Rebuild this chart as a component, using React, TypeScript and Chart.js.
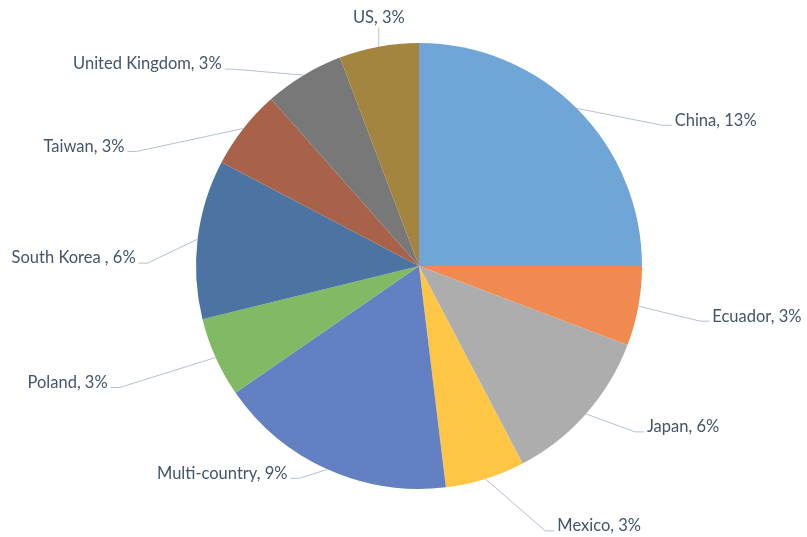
import React, { useEffect, useRef } from "react";
import { Chart, registerables } from "chart.js";

Chart.register(...registerables);

// ---- data ----
const categories = [
  "China",
  "Ecuador",
  "Japan",
  "Mexico",
  "Multi-country",
  "Poland",
  "South Korea ",
  "Taiwan",
  "United Kingdom",
  "US",
];
const shares = [13, 3, 6, 3, 9, 3, 6, 3, 3, 3];
const percentLabels = ["13%", "3%", "6%", "3%", "9%", "3%", "6%", "3%", "3%", "3%"];

// ---- styles ----
const sliceColors = [
  "#70a5d8",
  "#f08a50",
  "#adadad",
  "#ffc545",
  "#6381c2",
  "#81b964",
  "#4b74a3",
  "#a9624a",
  "#787878",
  "#a48540",
];
const TEXT_COLOR = "#44546a";
const LEADER_COLOR = "#b4c0d2";
const FONT = "16.5px Lato";

// label elbow offsets (px) relative to the slice's outer mid-point, mimicking the manual label layout
const labelNudges: [number, number][] = [
  [86, 17],
  [62, 15],
  [49, 18],
  [60, 52],
  [-28, 9],
  [-96, 30],
  [-50, 24],
  [-107, 23],
  [-70, -6],
  [0, -19],
];

const outerLabelPlugin = {
  id: "outerLabels",
  afterDatasetsDraw(chart: any) {
    const ctx = chart.ctx as CanvasRenderingContext2D;
    const meta = chart.getDatasetMeta(0);
    ctx.save();
    ctx.font = FONT;
    ctx.fillStyle = TEXT_COLOR;
    ctx.strokeStyle = LEADER_COLOR;
    ctx.lineWidth = 1;
    meta.data.forEach((arc: any, i: number) => {
      const p = arc.getProps(["x", "y", "startAngle", "endAngle", "outerRadius"], true);
      const mid = (p.startAngle + p.endAngle) / 2;
      const ax = p.x + Math.cos(mid) * p.outerRadius;
      const ay = p.y + Math.sin(mid) * p.outerRadius;
      const [ox, oy] = labelNudges[i];
      const ex = ax + ox;
      const ey = ay + oy;
      const side = ox > 0 ? 1 : ox < 0 ? -1 : 0;
      const text = `${categories[i]}, ${percentLabels[i]}`;
      ctx.beginPath();
      ctx.moveTo(ax, ay);
      ctx.lineTo(ex, ey);
      if (side !== 0) ctx.lineTo(ex + side * 9, ey);
      ctx.stroke();
      if (side === 0) {
        ctx.textAlign = "center";
        ctx.textBaseline = "middle";
        ctx.fillText(text, ex, ey - 10);
      } else {
        ctx.textAlign = side > 0 ? "left" : "right";
        ctx.textBaseline = "middle";
        ctx.fillText(text, ex + side * 12, ey - 5);
      }
    });
    ctx.restore();
  },
};

export default function App() {
  const canvasRef = useRef<HTMLCanvasElement | null>(null);

  useEffect(() => {
    document.body.style.margin = "0";
    const canvas = canvasRef.current;
    if (!canvas) return;
    const chart = new Chart(canvas, {
      type: "pie",
      data: {
        labels: categories,
        datasets: [
          {
            data: shares,
            backgroundColor: sliceColors,
            borderWidth: 0,
          },
        ],
      },
      options: {
        responsive: false,
        animation: false,
        devicePixelRatio: 1,
        layout: { padding: { left: 196, right: 165, top: 43, bottom: 48 } },
        plugins: {
          legend: { display: false },
          tooltip: { enabled: false },
        },
      },
      plugins: [outerLabelPlugin],
    });
    return () => chart.destroy();
  }, []);

  return (
    <div style={{ position: "fixed", left: 0, top: 0, width: 807, height: 537, background: "#fff" }}>
      <canvas ref={canvasRef} width={807} height={537} />
    </div>
  );
}
